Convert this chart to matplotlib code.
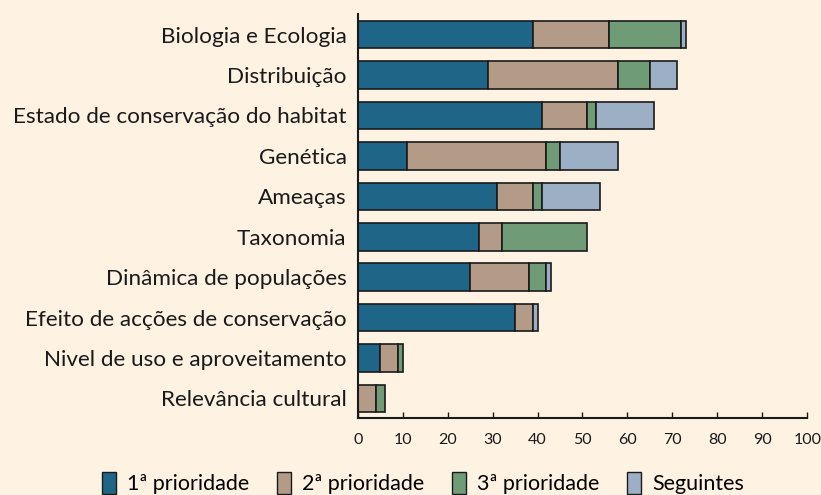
import matplotlib
matplotlib.use("Agg")
import matplotlib.pyplot as plt
import numpy as np
from matplotlib.patches import Patch

categories = ["Biologia e Ecologia", "Distribuição", "Estado de conservação do habitat",
              "Genética", "Ameaças", "Taxonomia", "Dinâmica de populações",
              "Efeito de acções de conservação", "Nivel de uso e aproveitamento",
              "Relevância cultural"]
p1 = [39, 29, 41, 11, 31, 27, 25, 35, 5, 0]
p2 = [17, 29, 10, 31, 8, 5, 13, 4, 4, 4]
p3 = [16, 7, 2, 3, 2, 19, 4, 0, 1, 2]
seg = [1, 6, 13, 13, 13, 0, 1, 1, 0, 0]
series_names = ["1ª prioridade", "2ª prioridade", "3ª prioridade", "Seguintes"]
colors = ["#1E6587", "#B39B88", "#6F9B77", "#9CAFC5"]
xticks = [0, 10, 20, 30, 40, 50, 60, 70, 80, 90, 100]

bg = "#FEF2E2"
plt.rcParams['font.family'] = ['Lato', 'DejaVu Sans']

fig = plt.figure(figsize=(8.21, 4.95), dpi=100, facecolor=bg)
ax = fig.add_axes([0.4357, 0.1562, 0.5475, 0.8155], facecolor=bg)

y = np.arange(len(categories))
left = np.zeros(len(categories))
for vals, c in zip([p1, p2, p3, seg], colors):
    v = np.array(vals, dtype=float)
    mask = v > 0
    ax.barh(y[mask], v[mask], left=left[mask], height=0.68, color=c,
            edgecolor="#1a1a1a", linewidth=1.2)
    left += v

ax.set_xlim(0, 100)
ax.set_ylim(9.475, -0.51)
ax.set_yticks(y)
ax.set_yticklabels(categories, fontsize=16.2, color="#1a1a1a")
ax.set_xticks(xticks)
ax.set_xticklabels([str(t) for t in xticks], fontsize=11.5, color="#1a1a1a")
ax.tick_params(axis='y', length=0, pad=8)
ax.tick_params(axis='x', direction='in', length=4, width=1, pad=11, color="#1a1a1a")
for s in ["top", "right"]:
    ax.spines[s].set_visible(False)
for s in ["left", "bottom"]:
    ax.spines[s].set_linewidth(1.5)
    ax.spines[s].set_color("#1a1a1a")

handles = [Patch(facecolor=c, edgecolor="#1a1a1a", linewidth=1, label=n)
           for c, n in zip(colors, series_names)]
fig.legend(handles=handles, loc="lower center", bbox_to_anchor=(0.515, -0.038), ncol=4,
           frameon=False, fontsize=15.5, handlelength=0.65, handleheight=1.25,
           handletextpad=0.5, columnspacing=1.3)

fig.savefig("out.png", dpi=100, facecolor=bg)
